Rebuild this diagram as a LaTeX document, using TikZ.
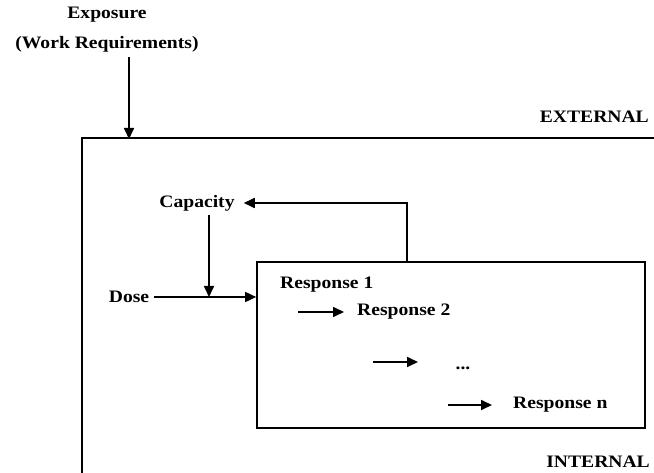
\documentclass[tikz,border=0pt]{standalone}
\usepackage{fontspec}
\setmainfont{Liberation Serif}[FakeStretch=1.12]
\usetikzlibrary{arrows.meta}
\begin{document}
\begin{tikzpicture}[x=1pt,y=-1pt,
  lbl/.style={font=\fontsize{17.5}{30}\selectfont\bfseries, inner sep=1pt},
  ln/.style={line width=1.7pt},
  arr/.style={ln,-{Triangle[length=11pt,width=10pt]}}]
\useasboundingbox (0,0) rectangle (654,473);
% outer frame (cut off by the picture edges)
\draw[ln] (654,138) -- (82,138) -- (82,473);
\node[lbl, align=center] (expo) at (107,30) {Exposure\\(Work Requirements)};
\node[lbl, anchor=east] (ext) at (650,117) {EXTERNAL};
\node[lbl, anchor=east] (int) at (651,462) {INTERNAL};
\coordinate (expoEnd) at (129,139);
\draw[arr] (expo.south -| expoEnd) ++(0,3) -- (expoEnd);
% inner box
\node[draw, ln, minimum width=388pt, minimum height=166pt, inner sep=0pt] (inner) at (451,345) {};
\node[lbl] (cap) at (197,203) {Capacity};
\node[lbl] (dose) at (129,297) {Dose};
\coordinate (capdrop) at (209,297);
\coordinate (fb) at (407,262);
\draw[arr] (fb) |- ([xshift=8pt]cap.east);
\draw[arr] (cap.south -| capdrop) ++(0,3) -- (capdrop);
\draw[arr] ([xshift=4pt]dose.east) -- (dose.east -| inner.west);
% responses
\node[lbl, anchor=west] (r1) at (279,285) {Response 1};
\node[lbl, anchor=west] (r2) at (356,312) {Response 2};
\node[lbl] (dots) at (463,368) {...};
\node[lbl, anchor=west] (rn) at (512,405) {Response n};
\coordinate (s1) at (298,312);
\coordinate (s2) at (373,362);
\coordinate (e2) at (418,362);
\coordinate (s3) at (448,405);
\draw[arr] (s1) -- ([xshift=-12pt]s1 -| r2.west);
\draw[arr] (s2) -- (e2);
\draw[arr] (s3) -- ([xshift=-20pt]s3 -| rn.west);
\end{tikzpicture}
\end{document}
